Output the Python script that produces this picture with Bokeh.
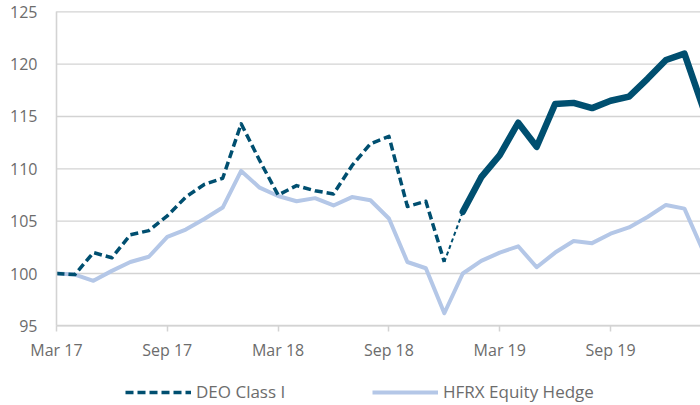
from bokeh.plotting import figure
from bokeh.models import Range1d, FixedTicker, Legend, LegendItem
from bokeh.embed import file_html
from bokeh.resources import INLINE

months = ["Mar 17", "Apr 17", "May 17", "Jun 17", "Jul 17", "Aug 17", "Sep 17", "Oct 17",
          "Nov 17", "Dec 17", "Jan 18", "Feb 18", "Mar 18", "Apr 18", "May 18", "Jun 18",
          "Jul 18", "Aug 18", "Sep 18", "Oct 18", "Nov 18", "Dec 18", "Jan 19", "Feb 19",
          "Mar 19", "Apr 19", "May 19", "Jun 19", "Jul 19", "Aug 19", "Sep 19", "Oct 19",
          "Nov 19", "Dec 19", "Jan 20", "Feb 20"]
deo = [100.0, 99.9, 102.0, 101.5, 103.7, 104.1, 105.5, 107.3, 108.5, 109.1, 114.3, 110.8,
       107.5, 108.4, 107.9, 107.6, 110.3, 112.4, 113.1, 106.4, 106.9, 101.1, 105.9, 109.2,
       111.3, 114.4, 112.1, 116.2, 116.3, 115.8, 116.5, 116.9, 118.6, 120.4, 121.0, 115.9]
hfrx = [100.0, 99.9, 99.3, 100.25, 101.1, 101.6, 103.5, 104.2, 105.2, 106.3, 109.8, 108.2,
        107.4, 106.9, 107.2, 106.5, 107.3, 107.0, 105.25, 101.1, 100.5, 96.2, 100.0, 101.2,
        102.0, 102.6, 100.6, 102.0, 103.1, 102.9, 103.8, 104.4, 105.4, 106.55, 106.2, 102.2]
tick_months = ["Mar 17", "Sep 17", "Mar 18", "Sep 18", "Mar 19", "Sep 19"]
y_ticks = [95, 100, 105, 110, 115, 120, 125]
series_names = ["DEO Class I", "HFRX Equity Hedge"]
last_dashed = "Dec 18"
first_solid = "Jan 19"

x = list(range(len(months)))
i_end = months.index(last_dashed)
i_sol = months.index(first_solid)
y_lo, y_hi = y_ticks[0], y_ticks[-1]
x_end = 34.87

DARK = "#004f70"
LIGHT = "#b4c7e7"
GRID = "#d3d3d3"
TEXT = "#6c6c6c"
FONT = "Open Sans"

# frame covers the whole page: Mar 17 sits at x~56, 125 at y~11, 95 at y~325
p = figure(width=700, height=405, x_range=Range1d(-3.03, x_end),
           y_range=Range1d(y_lo - 7.61, y_hi + 1.08),
           toolbar_location=None, output_backend="svg",
           min_border_left=0, min_border_right=0, min_border_top=0, min_border_bottom=0)
p.outline_line_color = None
p.background_fill_color = "white"
p.border_fill_color = "white"
p.xgrid.visible = False
p.ygrid.visible = False

# horizontal grid lines, from the first month to the right edge
p.segment(x0=[x[0]] * len(y_ticks), x1=[x[-1]] * len(y_ticks), y0=y_ticks, y1=y_ticks,
          line_color=GRID, line_width=1.3)

r_h = p.line(x, hfrx, line_color=LIGHT, line_width=4, line_join="round")
r_d = p.line(x[:i_end + 1], deo[:i_end + 1], line_color=DARK, line_width=3.5,
             line_dash="8 4", line_join="round")
p.line(x[i_end:i_sol + 1], deo[i_end:i_sol + 1], line_color=DARK, line_width=2,
       line_dash="4 3")
p.line(x[i_sol:], deo[i_sol:], line_color=DARK, line_width=6.5, line_join="round",
       line_cap="round")

xa = p.xaxis[0]
xa.fixed_location = y_lo
xa.bounds = (x[0], x_end)
xa.ticker = FixedTicker(ticks=[months.index(t) for t in tick_months])
xa.major_label_overrides = {months.index(t): t for t in tick_months}
xa.axis_line_color = GRID
xa.axis_line_width = 1.6
xa.major_tick_line_color = GRID
xa.major_tick_line_width = 1.5
xa.major_tick_out = 6
xa.major_tick_in = 0
xa.minor_tick_line_color = None
xa.major_label_standoff = 7
xa.major_label_text_font = FONT
xa.major_label_text_font_size = "16px"
xa.major_label_text_color = TEXT

ya = p.yaxis[0]
ya.fixed_location = x[0]
ya.ticker = FixedTicker(ticks=y_ticks)
ya.bounds = (y_lo, y_hi)
ya.axis_line_color = GRID
ya.axis_line_width = 1.6
ya.major_tick_line_color = None
ya.major_tick_out = 0
ya.major_tick_in = 0
ya.minor_tick_line_color = None
ya.major_label_standoff = 19
ya.major_label_text_font = FONT
ya.major_label_text_font_size = "16px"
ya.major_label_text_color = TEXT


def make_legend(name, rend, lx):
    return Legend(items=[LegendItem(label=name, renderers=[rend])], location=(lx, 2),
                  orientation="horizontal", glyph_width=66, glyph_height=20,
                  label_height=20, label_standoff=5, padding=0, margin=0,
                  border_line_color=None, background_fill_alpha=0,
                  label_text_font=FONT, label_text_font_size="17px",
                  label_text_color=TEXT)


p.add_layout(make_legend(series_names[0], r_d, 125))
p.add_layout(make_legend(series_names[1], r_h, 372))

open("out.html", "w").write(file_html(p, INLINE))
